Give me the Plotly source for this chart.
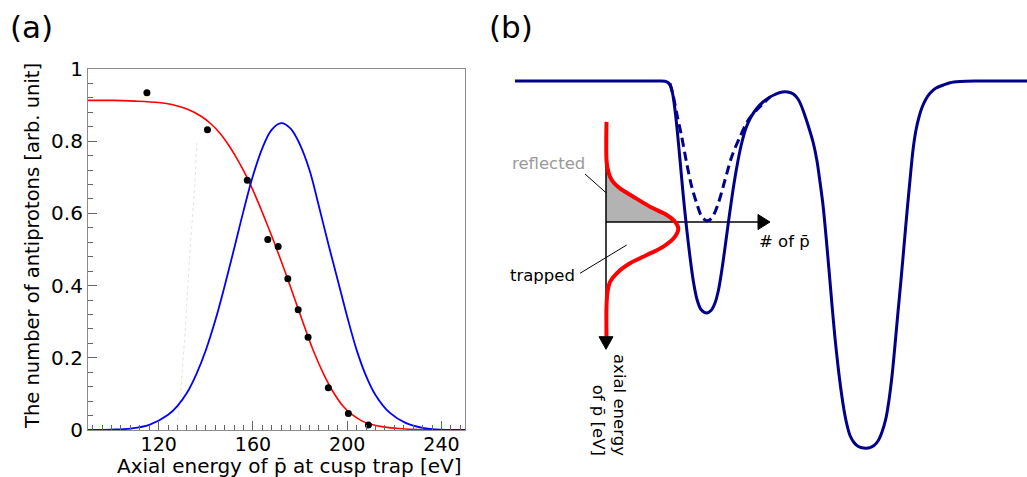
import plotly.graph_objects as go

W, H = 1027, 477
FONT = "DejaVu Sans"

# ---------------- Panel (a) data ----------------
meas_energy = [115.0, 140.7, 157.6, 166.3, 170.7, 174.8, 179.2, 183.4, 192.0, 200.5, 209.0]
meas_count = [0.934, 0.832, 0.692, 0.528, 0.508, 0.419, 0.333, 0.257, 0.117, 0.046, 0.014]

fit_energy = [90, 100, 110, 120, 126, 132, 138, 142, 146, 150, 154, 158, 162, 166, 170,
              174, 178, 182, 186, 190, 194, 198, 202, 206, 210, 216, 222, 230, 240, 250]
fit_count = [0.913, 0.913, 0.911, 0.907, 0.901, 0.889, 0.869, 0.849, 0.822, 0.786, 0.743,
             0.693, 0.634, 0.570, 0.503, 0.432, 0.358, 0.284, 0.214, 0.155, 0.106, 0.068,
             0.043, 0.026, 0.016, 0.008, 0.004, 0.001, 0.000, 0.000]

dist_energy = [90, 100, 108, 116, 124, 128, 132, 136, 140, 144, 148, 152, 156, 160, 164, 168,
               172, 176, 180, 184, 188, 192, 196, 200, 204, 208, 212, 218, 225, 232, 240, 250]
dist_count = [0.000, 0.001, 0.004, 0.014, 0.042, 0.067, 0.103, 0.155, 0.221, 0.303, 0.399,
              0.502, 0.607, 0.704, 0.781, 0.832, 0.850, 0.835, 0.790, 0.720, 0.620, 0.515,
              0.415, 0.314, 0.222, 0.150, 0.097, 0.048, 0.019, 0.006, 0.001, 0.000]

guide_energy = [127.7, 129.1, 131.2, 133.3, 135.4, 136.2]
guide_count = [0.01, 0.083, 0.269, 0.499, 0.684, 0.795]

x_ticks = [120, 160, 200, 240]
y_ticks = [0, 0.2, 0.4, 0.6, 0.8, 1]

# ---------------- Panel (b) schematic data (arbitrary units) ----------------
pot_z = [35, 160, 180, 185, 188, 190.5, 192.5, 194.5, 197, 200, 203.3, 206.7, 210, 213.3, 217,
         221, 226.7, 231, 235, 238.5, 242, 245.5, 249, 253, 257, 261, 266, 271, 276.7, 283,
         290, 295, 300, 305, 310, 314, 318, 321, 324, 328, 333.3, 337, 340, 343, 346, 349,
         352, 355, 358, 361, 364, 367, 370, 374, 378, 382, 386, 390, 394, 398, 402, 406, 409,
         412, 415, 418, 421, 424, 427, 430, 433, 436, 439, 442, 446, 450, 456, 463.3, 470,
         480, 495, 547]
pot_depth = [0, 0, 0, 0.3, 1.5, 5, 12, 25, 47, 79, 115, 148, 176, 200, 218.5,
             228.5, 232, 229.5, 222, 209, 188, 163, 137, 109, 85, 65, 47, 36, 27.5, 21,
             16, 13.5, 11.5, 10.8, 11.5, 13.5, 18, 24, 32, 44, 62, 80, 101, 124, 155, 189,
             224, 257, 285, 309, 329, 344, 354.5, 361.5, 365.3, 366.8, 367.2, 366.6, 364.5, 360,
             351, 337, 319, 295, 264, 231, 199, 165, 131, 99, 69, 49, 36, 26.5, 18, 12.3,
             7, 4, 1.7, 0.5, 0, 0]

alt_z = [190, 193.3, 196.7, 201.7, 206.7, 211.7, 216.7, 221.7, 226.7, 231.7, 238.3, 245,
         251.7, 260, 268.3, 276.7, 290]
alt_depth = [2.3, 15, 32.3, 55.7, 82.3, 105.7, 122.3, 135.7, 139.7, 137.3, 122.3, 99,
             75.7, 55.7, 39, 29, 16]

pbar_energy = [41, 79, 87, 95.7, 102, 107.3, 115.7, 125.7, 134, 140.7, 147.3, 155.7, 165.7,
               174, 182.3, 192.3, 201, 211, 225.7, 255.7]
pbar_number = [0.5, 0.5, 1.5, 4, 8, 14, 27.3, 44, 60.7, 69, 72.3, 69, 57.3, 40.7, 24, 10.7,
               4, 1.5, 0.5, 0.5]

# schematic layout constants
AX_Z = 126          # energy axis position
AX_TOP, AX_END = 40.7, 255.7
CUT = 141           # number axis / cut energy
NUM_END = 278

fig = go.Figure()

# ---- panel (a) traces ----
fig.add_trace(go.Scatter(x=guide_energy, y=guide_count, mode="lines",
                         line=dict(color="#e4e4e4", width=1, dash="dot"),
                         xaxis="x", yaxis="y", hoverinfo="skip"))
fig.add_trace(go.Scatter(x=fit_energy, y=fit_count, mode="lines", line_shape="spline",
                         line=dict(color="#ff0000", width=1.6), xaxis="x", yaxis="y"))
fig.add_trace(go.Scatter(x=dist_energy, y=dist_count, mode="lines", line_shape="spline",
                         line=dict(color="#0000ff", width=1.8), xaxis="x", yaxis="y"))
fig.add_trace(go.Scatter(x=meas_energy, y=meas_count, mode="markers",
                         marker=dict(color="black", size=7), xaxis="x", yaxis="y"))

# ---- panel (b) traces ----
fill_n = [n for n, e in zip(pbar_number, pbar_energy) if e <= CUT]
fill_e = [e for e in pbar_energy if e <= CUT]
fill_x = [AX_Z + n for n in fill_n] + [AX_Z, AX_Z]
fill_y = fill_e + [CUT, fill_e[0]]
fig.add_trace(go.Scatter(x=fill_x, y=fill_y, mode="lines", fill="toself",
                         fillcolor="#b3b3b3", line=dict(width=0),
                         xaxis="x2", yaxis="y2", hoverinfo="skip"))
fig.add_trace(go.Scatter(x=[AX_Z, AX_Z], y=[AX_TOP, AX_END], mode="lines",
                         line=dict(color="black", width=1.5), xaxis="x2", yaxis="y2"))
fig.add_trace(go.Scatter(x=[AX_Z, NUM_END], y=[CUT, CUT], mode="lines",
                         line=dict(color="black", width=1.5), xaxis="x2", yaxis="y2"))
fig.add_trace(go.Scatter(x=[105, 126], y=[93, 111.7], mode="lines",
                         line=dict(color="black", width=1), xaxis="x2", yaxis="y2"))
fig.add_trace(go.Scatter(x=[100, 146.7], y=[192.3, 164], mode="lines",
                         line=dict(color="black", width=1), xaxis="x2", yaxis="y2"))
fig.add_trace(go.Scatter(x=[AX_Z + n for n in pbar_number], y=pbar_energy, mode="lines",
                         line_shape="spline", line=dict(color="#ff0000", width=4),
                         xaxis="x2", yaxis="y2"))
fig.add_trace(go.Scatter(x=pot_z, y=pot_depth, mode="lines", line_shape="spline",
                         line=dict(color="#00008b", width=3, smoothing=0.8),
                         xaxis="x2", yaxis="y2"))
fig.add_trace(go.Scatter(x=alt_z, y=alt_depth, mode="lines", line_shape="spline",
                         line=dict(color="#00008b", width=3, dash="9px,5px", smoothing=0.8),
                         xaxis="x2", yaxis="y2"))
fig.add_trace(go.Scatter(x=[NUM_END, NUM_END + 12, NUM_END, NUM_END],
                         y=[CUT - 7.5, CUT, CUT + 7.5, CUT - 7.5], mode="lines",
                         fill="toself", fillcolor="black", line=dict(color="black", width=1),
                         xaxis="x2", yaxis="y2"))
fig.add_trace(go.Scatter(x=[AX_Z - 7, AX_Z + 7, AX_Z, AX_Z - 7],
                         y=[AX_END, AX_END, AX_END + 12.6, AX_END], mode="lines",
                         fill="toself", fillcolor="black", line=dict(color="black", width=1),
                         xaxis="x2", yaxis="y2"))

axis_common = dict(showgrid=False, zeroline=False, showline=True, mirror=True,
                   linecolor="#8c8c8c", linewidth=1.2, ticks="inside", ticklen=9,
                   tickcolor="#666666", tickwidth=1, automargin=False)

fig.update_layout(
    template="none",
    width=W, height=H,
    margin=dict(l=0, r=0, t=0, b=0, pad=0),
    paper_bgcolor="white", plot_bgcolor="white",
    showlegend=False,
    font=dict(family=FONT, color="black"),
    xaxis=dict(domain=[88 / W, 465 / W], range=[90, 250], anchor="y",
               tickvals=x_ticks, tickfont=dict(size=19, family=FONT),
               ticklabelstandoff=-3,
               minor=dict(dtick=4, tick0=0, ticks="inside", ticklen=5,
                          tickcolor="#666666", showgrid=False),
               **axis_common),
    yaxis=dict(domain=[1 - 430 / H, 1 - 69 / H], range=[0, 1], anchor="x",
               tickvals=y_ticks, tickfont=dict(size=20, family=FONT),
               minor=dict(dtick=0.04, tick0=0, ticks="inside", ticklen=5,
                          tickcolor="#666666", showgrid=False),
               **axis_common),
    xaxis2=dict(domain=[480 / W, 1], range=[0, 547], anchor="y2", visible=False,
                fixedrange=True, automargin=False),
    yaxis2=dict(domain=[0, 1], range=[396, -81], anchor="x2", visible=False,
                fixedrange=True, automargin=False),
)

ann = [
    dict(text="(a)", x=8 / W, y=1 - 27 / H, xref="paper", yref="paper",
         xanchor="left", yanchor="middle", showarrow=False, font=dict(size=31)),
    dict(text="(b)", x=487 / W, y=1 - 27 / H, xref="paper", yref="paper",
         xanchor="left", yanchor="middle", showarrow=False, font=dict(size=31)),
    dict(text="Axial energy of p\u0304 at cusp trap [eV]", x=464 / W, y=1 - 466 / H,
         xref="paper", yref="paper", xanchor="right", yanchor="middle",
         showarrow=False, font=dict(size=20)),
    dict(text="The number of antiprotons [arb. unit]", x=32 / W, y=1 - 246 / H,
         xref="paper", yref="paper", xanchor="center", yanchor="middle",
         textangle=-90, showarrow=False, font=dict(size=19.5)),
    dict(text="reflected", x=68.3, y=82.3, xref="x2", yref="y2", showarrow=False,
         xanchor="center", yanchor="middle", font=dict(size=16.5, color="#9a9a9a")),
    dict(text="trapped", x=62.5, y=194, xref="x2", yref="y2", showarrow=False,
         xanchor="center", yanchor="middle", font=dict(size=16.5, color="black")),
    dict(text="# of p\u0304", x=277, y=160, xref="x2", yref="y2", showarrow=False,
         xanchor="left", yanchor="middle", font=dict(size=16.5, color="black")),
    dict(text="axial energy<br>of p\u0304 [eV]", x=129, y=324, xref="x2", yref="y2",
         showarrow=False, textangle=90, align="right", xanchor="center",
         yanchor="middle", font=dict(size=16.5, color="black")),
]
fig.update_layout(annotations=ann)

fig.write_html("out.html")
